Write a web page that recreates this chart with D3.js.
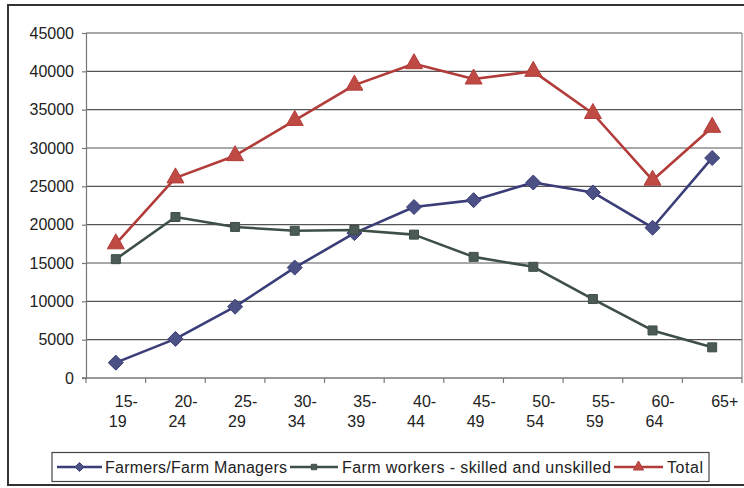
<!DOCTYPE html>
<html>
<head>
<meta charset="utf-8">
<script src="https://cdn.jsdelivr.net/npm/d3@7"></script>
<style>
  html, body { margin: 0; padding: 0; background: #fff; }
  svg { display: block; font-family: "Liberation Sans", Arial, sans-serif; }
</style>
</head>
<body>
<svg id="chart" width="744" height="488"></svg>
<script>
// Age groups (category axis) and the label lines shown under each tick
const ageGroups = ["15-19", "20-24", "25-29", "30-34", "35-39", "40-44", "45-49", "50-54", "55-59", "60-64", "65+"];
const ageLabelLines = [["15-", "19"], ["20-", "24"], ["25-", "29"], ["30-", "34"], ["35-", "39"], ["40-", "44"], ["45-", "49"], ["50-", "54"], ["55-", "59"], ["60-", "64"], ["65+"]];

// Series values
const farmers = [2000, 5100, 9300, 14400, 18900, 22300, 23200, 25500, 24200, 19600, 28700];
const farmWorkers = [15500, 21000, 19700, 19200, 19300, 18700, 15800, 14500, 10300, 6200, 4000];
const total = [17500, 26100, 29000, 33600, 38200, 41000, 39000, 40000, 34500, 25800, 32700];

// Value axis ticks
const yTicks = [0, 5000, 10000, 15000, 20000, 25000, 30000, 35000, 40000, 45000];

const seriesNames = ["Farmers/Farm Managers", "Farm workers - skilled and unskilled", "Total"];

const series = [
  { name: seriesNames[0], values: farmers, line: "#3a3d78", fill: "#4b5185", marker: "diamond" },
  { name: seriesNames[1], values: farmWorkers, line: "#3e4f47", fill: "#4b5a55", marker: "square" },
  { name: seriesNames[2], values: total, line: "#b23c3a", fill: "#bf4a44", marker: "triangle" }
];

const FONT = "'Liberation Sans', Arial, sans-serif";
const svg = d3.select("#chart");
const plot = { left: 86, right: 742, top: 33, bottom: 378 };

const x = d3.scaleBand().domain(ageGroups).range([plot.left, plot.right]).padding(0);
const y = d3.scaleLinear().domain([0, 45000]).range([plot.bottom, plot.top]);
const cx = d => x(d) + x.bandwidth() / 2;

// Outer chart frame
svg.append("rect")
  .attr("x", 8).attr("y", 5).attr("width", 760).attr("height", 480)
  .attr("fill", "none").attr("stroke", "#333").attr("stroke-width", 2);

// Horizontal gridlines
svg.append("g")
  .selectAll("line")
  .data(yTicks.filter(t => t > 0))
  .join("line")
  .attr("x1", plot.left).attr("x2", plot.right)
  .attr("y1", d => y(d)).attr("y2", d => y(d))
  .attr("stroke", "#555").attr("stroke-width", 1.2);

// Plot area right edge
svg.append("line")
  .attr("x1", plot.right).attr("x2", plot.right)
  .attr("y1", plot.top).attr("y2", plot.bottom)
  .attr("stroke", "#888").attr("stroke-width", 1.2);

// Value axis
const yAxis = d3.axisLeft(y).tickValues(yTicks).tickSize(4).tickPadding(8).tickFormat(d3.format("d"));
const gy = svg.append("g").attr("transform", `translate(${plot.left},0)`).call(yAxis);
gy.select(".domain").attr("stroke", "#777").attr("stroke-width", 1.2);
gy.selectAll(".tick line").attr("stroke", "#777").attr("stroke-width", 1.2);
gy.selectAll(".tick text")
  .attr("font-size", "16px").attr("fill", "#222")
  .attr("font-family", FONT);

// Category axis: baseline and ticks at band boundaries
svg.append("line")
  .attr("x1", plot.left - 4).attr("x2", plot.right)
  .attr("y1", plot.bottom).attr("y2", plot.bottom)
  .attr("stroke", "#777").attr("stroke-width", 1.4);
const boundaries = ageGroups.map(d => x(d)).concat([plot.right]);
svg.append("g").selectAll("line")
  .data(boundaries)
  .join("line")
  .attr("x1", d => d).attr("x2", d => d)
  .attr("y1", plot.bottom).attr("y2", plot.bottom + 5)
  .attr("stroke", "#777").attr("stroke-width", 1.2);

// Category labels (wrapped onto two lines)
const xl = svg.append("g").attr("font-size", "16px").attr("fill", "#222").attr("font-family", FONT);
ageGroups.forEach((g, i) => {
  const lines = ageLabelLines[i];
  const t = xl.append("text").attr("text-anchor", "start");
  t.append("tspan").attr("x", cx(g) - 1).attr("y", 407).text(lines[0]);
  if (lines.length > 1) {
    t.append("tspan").attr("x", cx(g) - 7).attr("y", 427).text(lines[1]);
  }
});

// Marker shapes
function markerPath(kind, k) {
  if (kind === "diamond") { const r = 7.5 * k; return `M0,${-r}L${r},0L0,${r}L${-r},0Z`; }
  if (kind === "square") { const h = 4.5 * k; return `M${-h},${-h}H${h}V${h}H${-h}Z`; }
  return `M0,${-10 * k}L${8.5 * k},${5 * k}L${-8.5 * k},${5 * k}Z`;
}

const line = d3.line().x((d, i) => cx(ageGroups[i])).y(d => y(d));

series.forEach(s => {
  svg.append("path")
    .datum(s.values)
    .attr("d", line)
    .attr("fill", "none")
    .attr("stroke", s.line)
    .attr("stroke-width", 2.6)
    .attr("stroke-linejoin", "round");
  svg.append("g").selectAll("path")
    .data(s.values)
    .join("path")
    .attr("d", markerPath(s.marker, 1))
    .attr("transform", (d, i) => `translate(${cx(ageGroups[i])},${y(d)})`)
    .attr("fill", s.fill)
    .attr("stroke", s.line)
    .attr("stroke-width", 1);
});

// Legend
const legend = svg.append("g");
legend.append("rect")
  .attr("x", 52).attr("y", 452.5).attr("width", 657).attr("height", 29)
  .attr("fill", "#fff").attr("stroke", "#444").attr("stroke-width", 1.2);

const legendItems = [
  { s: series[0], x1: 57, x2: 102, tx: 105, tw: 182 },
  { s: series[1], x1: 290, x2: 338, tx: 342, tw: 269 },
  { s: series[2], x1: 614, x2: 663, tx: 667, tw: 36 }
];
legendItems.forEach(it => {
  const ly = 467;
  legend.append("line")
    .attr("x1", it.x1).attr("x2", it.x2).attr("y1", ly).attr("y2", ly)
    .attr("stroke", it.s.line).attr("stroke-width", 2.6);
  legend.append("path")
    .attr("d", markerPath(it.s.marker, 0.6))
    .attr("transform", `translate(${(it.x1 + it.x2) / 2},${ly})`)
    .attr("fill", it.s.fill).attr("stroke", it.s.line).attr("stroke-width", 1);
  const t = legend.append("text")
    .attr("x", it.tx).attr("y", 472.5)
    .attr("font-size", "16px").attr("fill", "#222").attr("font-family", FONT)
    .text(it.s.name);
  if (it.tw) t.attr("textLength", it.tw).attr("lengthAdjust", "spacing");
});
</script>
</body>
</html>
